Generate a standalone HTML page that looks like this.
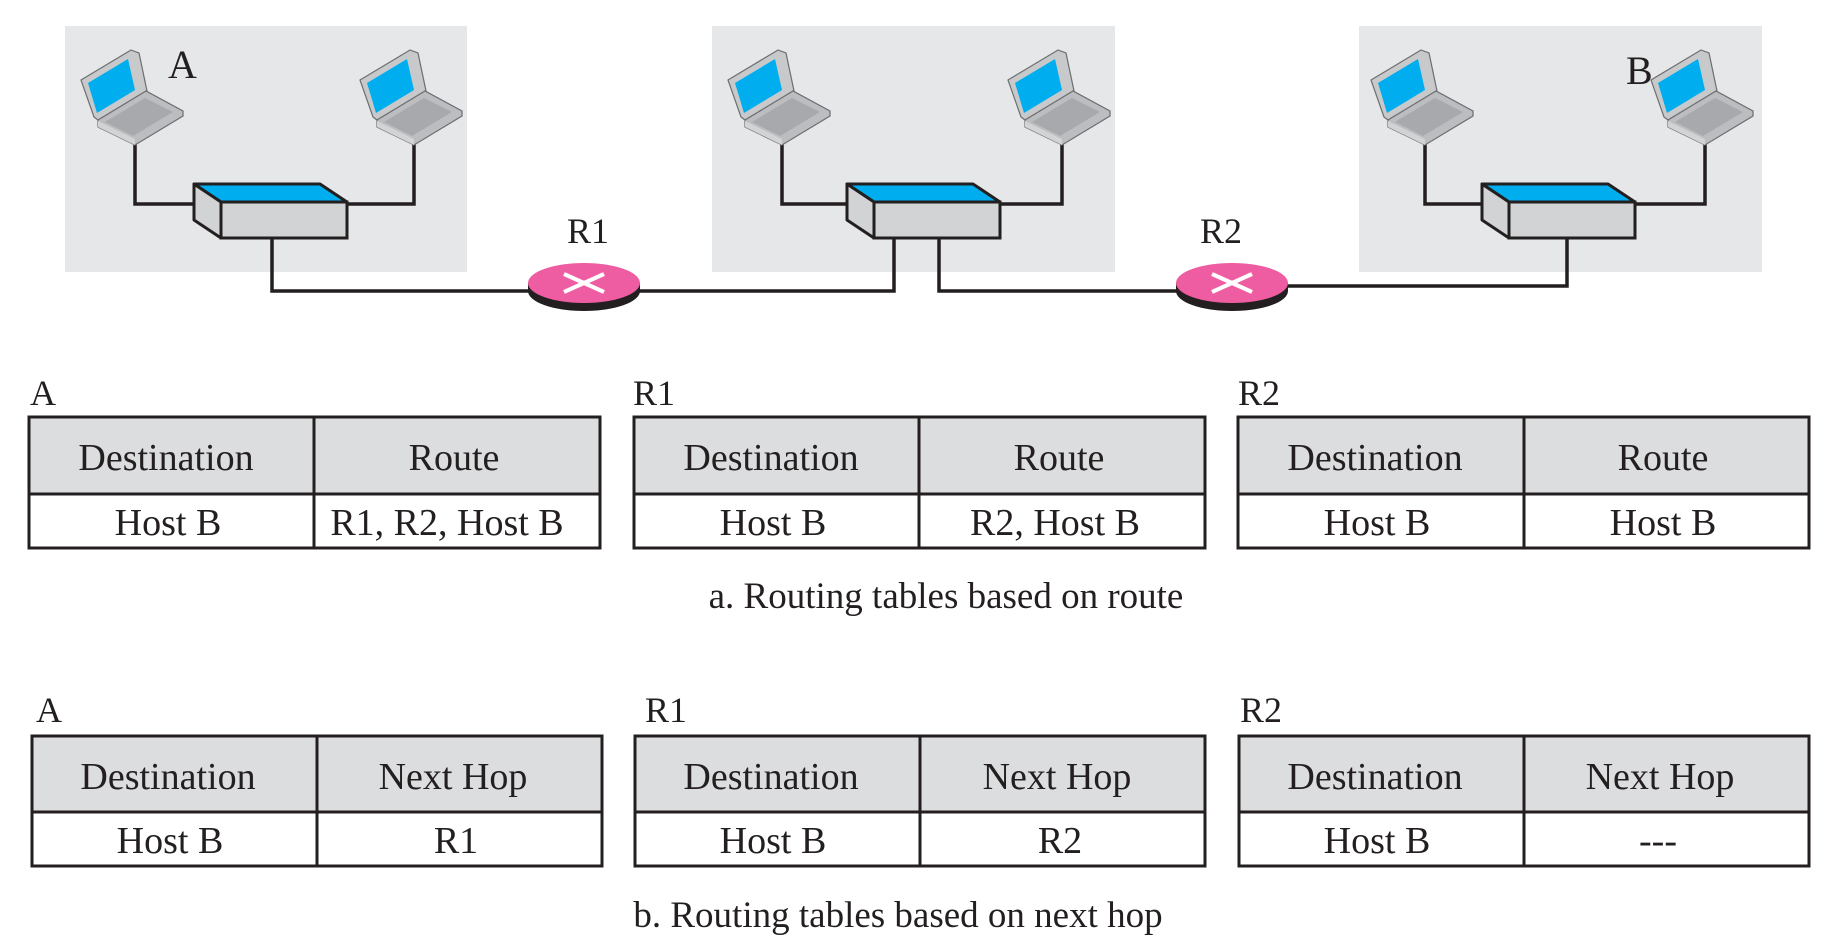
<!DOCTYPE html>
<html><head><meta charset="utf-8"><style>
html,body{margin:0;padding:0;background:#fff}
svg{display:block}
text{font-family:"Liberation Serif",serif;fill:#231f20}
</style></head><body>
<svg width="1840" height="948" viewBox="0 0 1840 948" xmlns="http://www.w3.org/2000/svg">
<defs>
<g id="lap">
 <polygon points="0,31 50,1 58,4 66,42 17,71 13,68" fill="#c8c9cb" stroke="#6d6e70" stroke-width="1.2"/>
 <polygon points="7,34 47,10 54,41 16,64" fill="#00aeef"/>
 <polygon points="17,71 65,42 102,62 102,67 54,96 17,78" fill="#bcbdc0" stroke="#6d6e70" stroke-width="1.2"/>
 <polygon points="24,73 64,49 92,63 52,87" fill="#a7a9ac"/>
 <polygon points="17,78 54,96 54,90 17,72" fill="#d1d3d4"/>
</g>
<g id="sw">
 <polygon points="0,0 126,0 153,18 27,18" fill="#00aeef" stroke="#231f20" stroke-width="3" stroke-linejoin="round"/>
 <polygon points="0,0 27,18 27,54 0,36" fill="#d1d3d4" stroke="#231f20" stroke-width="3" stroke-linejoin="round"/>
 <rect x="27" y="18" width="126" height="36" fill="#d1d3d4" stroke="#231f20" stroke-width="3"/>
</g>
<g id="rt">
 <ellipse cx="0" cy="8" rx="56" ry="20" fill="#231f20"/>
 <rect x="-56" y="0" width="112" height="8" fill="#231f20"/>
 <ellipse cx="0" cy="0" rx="56" ry="20" fill="#ee5da1"/>
 <line x1="-20" y1="-9" x2="20" y2="9" stroke="#fff" stroke-width="4"/>
 <line x1="-20" y1="9" x2="20" y2="-9" stroke="#fff" stroke-width="4"/>
</g>
</defs>
<!-- gray boxes -->
<rect x="65" y="26" width="402" height="246" fill="#e6e7e8"/>
<rect x="712" y="26" width="403" height="246" fill="#e6e7e8"/>
<rect x="1359" y="26" width="403" height="246" fill="#e6e7e8"/>
<!-- cables -->
<g fill="none" stroke="#231f20" stroke-width="3.5">
 <polyline points="135,143 135,204 200,204"/>
 <polyline points="414,143 414,204 340,204"/>
 <polyline points="272,238 272,291 540,291"/>
 <polyline points="626,291 894,291 894,238"/>
 <polyline points="782,143 782,204 848,204"/>
 <polyline points="1062,143 1062,204 990,204"/>
 <polyline points="939,238 939,291 1190,291"/>
 <polyline points="1275,286 1567,286 1567,238"/>
 <polyline points="1425,143 1425,204 1490,204"/>
 <polyline points="1705,143 1705,204 1630,204"/>
</g>
<!-- laptops -->
<use href="#lap" x="81" y="49"/>
<use href="#lap" x="360" y="49"/>
<use href="#lap" x="728" y="49"/>
<use href="#lap" x="1008" y="49"/>
<use href="#lap" x="1371" y="49"/>
<use href="#lap" x="1651" y="49"/>
<!-- switches -->
<use href="#sw" x="194" y="184"/>
<use href="#sw" x="847" y="184"/>
<use href="#sw" x="1482" y="184"/>
<!-- routers -->
<use href="#rt" x="584" y="283"/>
<use href="#rt" x="1232" y="283"/>
<!-- labels -->
<text x="168" y="78" font-size="40">A</text>
<text x="1626" y="84" font-size="40">B</text>
<text x="567" y="243" font-size="36">R1</text>
<text x="1200" y="243" font-size="36">R2</text>

<!-- tables a -->
<g font-size="38" text-anchor="middle">
 <text x="30" y="405" text-anchor="start" font-size="36">A</text>
 <text x="633" y="405" text-anchor="start" font-size="36">R1</text>
 <text x="1238" y="405" text-anchor="start" font-size="36">R2</text>
 <g stroke="#231f20" stroke-width="3">
  <rect x="29" y="417" width="571" height="77" fill="#dcddde"/>
  <rect x="29" y="494" width="571" height="54" fill="#fff"/>
  <line x1="314" y1="417" x2="314" y2="548"/>
  <rect x="634" y="417" width="571" height="77" fill="#dcddde"/>
  <rect x="634" y="494" width="571" height="54" fill="#fff"/>
  <line x1="919" y1="417" x2="919" y2="548"/>
  <rect x="1238" y="417" width="571" height="77" fill="#dcddde"/>
  <rect x="1238" y="494" width="571" height="54" fill="#fff"/>
  <line x1="1524" y1="417" x2="1524" y2="548"/>
 </g>
 <text x="166" y="470">Destination</text><text x="454" y="470">Route</text>
 <text x="168" y="535">Host B</text><text x="447" y="535">R1, R2, Host B</text>
 <text x="771" y="470">Destination</text><text x="1059" y="470">Route</text>
 <text x="773" y="535">Host B</text><text x="1055" y="535">R2, Host B</text>
 <text x="1375" y="470">Destination</text><text x="1663" y="470">Route</text>
 <text x="1377" y="535">Host B</text><text x="1663" y="535">Host B</text>
 <text x="946" y="608" font-size="37">a. Routing tables based on route</text>

 <text x="36" y="722" text-anchor="start" font-size="36">A</text>
 <text x="645" y="722" text-anchor="start" font-size="36">R1</text>
 <text x="1240" y="722" text-anchor="start" font-size="36">R2</text>
 <g stroke="#231f20" stroke-width="3">
  <rect x="32" y="736" width="570" height="76" fill="#dcddde"/>
  <rect x="32" y="812" width="570" height="54" fill="#fff"/>
  <line x1="317" y1="736" x2="317" y2="866"/>
  <rect x="635" y="736" width="570" height="76" fill="#dcddde"/>
  <rect x="635" y="812" width="570" height="54" fill="#fff"/>
  <line x1="920" y1="736" x2="920" y2="866"/>
  <rect x="1239" y="736" width="570" height="76" fill="#dcddde"/>
  <rect x="1239" y="812" width="570" height="54" fill="#fff"/>
  <line x1="1524" y1="736" x2="1524" y2="866"/>
 </g>
 <text x="168" y="789">Destination</text><text x="453" y="789">Next Hop</text>
 <text x="170" y="853">Host B</text><text x="456" y="853">R1</text>
 <text x="771" y="789">Destination</text><text x="1057" y="789">Next Hop</text>
 <text x="773" y="853">Host B</text><text x="1060" y="853">R2</text>
 <text x="1375" y="789">Destination</text><text x="1660" y="789">Next Hop</text>
 <text x="1377" y="853">Host B</text><text x="1658" y="853">---</text>
 <text x="898" y="927" font-size="37">b. Routing tables based on next hop</text>
</g>
</svg>
</body></html>
